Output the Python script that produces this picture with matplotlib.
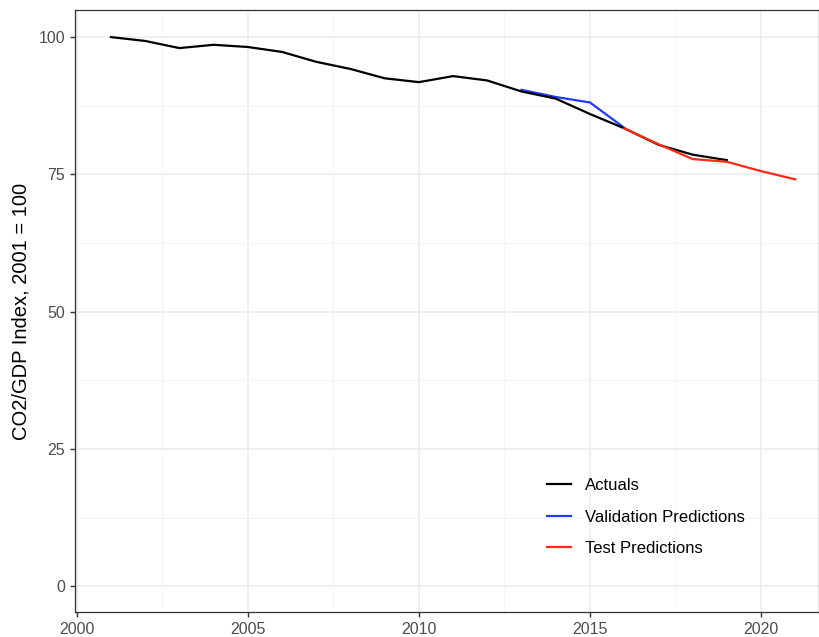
import matplotlib
matplotlib.use("Agg")
import matplotlib.pyplot as plt
from matplotlib.ticker import MultipleLocator

plt.rcParams['font.family'] = ['Liberation Sans', 'DejaVu Sans']

# data
act_years = list(range(2001, 2020))
act_vals = [100.0, 99.3, 98.0, 98.6, 98.2, 97.3, 95.5, 94.2, 92.5, 91.8,
            92.9, 92.1, 90.1, 88.8, 86.0, 83.4, 80.4, 78.6, 77.6]

val_years = [2013, 2014, 2015, 2016]
val_vals = [90.4, 89.1, 88.1, 83.5]

test_years = [2016, 2017, 2018, 2019, 2020, 2021]
test_vals = [83.4, 80.5, 77.8, 77.3, 75.6, 74.1]

fig = plt.figure(figsize=(8.2, 6.37), dpi=100)
ax = fig.add_axes([0.0915, 0.039, 0.9075, 0.945])

ax.plot(act_years, act_vals, color='black', lw=1.6, label='Actuals', zorder=3)
ax.plot(val_years, val_vals, color='#1F3BFF', lw=1.6, label='Validation Predictions', zorder=2)
ax.plot(test_years, test_vals, color='#FF2A12', lw=1.6, label='Test Predictions', zorder=4)

ax.set_xlim(1999.95, 2021.7)
ax.set_ylim(-4.7, 104.9)
ax.xaxis.set_major_locator(MultipleLocator(5))
ax.xaxis.set_minor_locator(MultipleLocator(2.5))
ax.yaxis.set_major_locator(MultipleLocator(25))
ax.yaxis.set_minor_locator(MultipleLocator(12.5))

ax.grid(which='major', color='#EBEBEB', lw=1.1)
ax.grid(which='minor', color='#F2F2F2', lw=0.6)
ax.set_axisbelow(True)
for s in ax.spines.values():
    s.set_color('#333333')
    s.set_linewidth(0.9)

ax.tick_params(which='major', length=3.5, width=1, color='#333333',
               labelcolor='#4D4D4D', labelsize=11.5)
ax.tick_params(which='minor', length=0)
ax.set_ylabel('CO2/GDP Index, 2001 = 100', fontsize=14.5, color='black', labelpad=6)

ax.legend(loc='lower right', bbox_to_anchor=(0.92, 0.068), frameon=False,
          fontsize=12, handlelength=1.45, labelspacing=1.0)

fig.savefig('out.png', dpi=100)
